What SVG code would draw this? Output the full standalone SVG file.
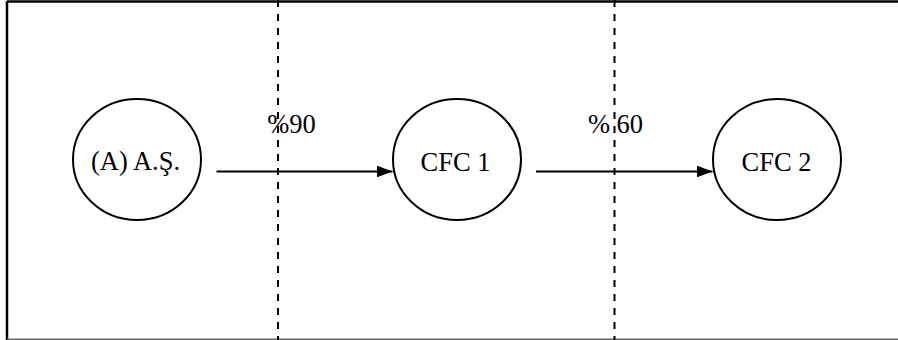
<svg xmlns="http://www.w3.org/2000/svg" width="898" height="340" viewBox="0 0 898 340">
<defs>
<style>
.node ellipse{fill:#fff;stroke:#000;stroke-width:2}
.node text,.lbl{font-family:"Liberation Serif","Times New Roman",serif;font-size:26.5px;fill:#000;text-anchor:middle}
.dash{stroke:#000;stroke-width:2;stroke-dasharray:7,7}
.conn{stroke:#000;stroke-width:2;fill:none;marker-end:url(#ah)}
</style>
<marker id="ah" markerWidth="16" markerHeight="12" refX="16" refY="6" orient="auto" markerUnits="userSpaceOnUse">
<path d="M0,0 L16,6 L0,12 Z" fill="#000"/>
</marker>
</defs>
<rect width="898" height="340" fill="#fff"/>
<g id="frame">
<line x1="7" y1="1.5" x2="898" y2="1.5" stroke="#000" stroke-width="2.5"/>
<line x1="7" y1="1" x2="7" y2="340" stroke="#000" stroke-width="2.5"/>
<line x1="7" y1="339.3" x2="898" y2="339.3" stroke="#666" stroke-width="1.5"/>
</g>
<g id="dividers">
<line class="dash" x1="278" y1="0" x2="278" y2="340"/>
<line class="dash" x1="614.5" y1="0" x2="614.5" y2="340"/>
</g>
<g id="connectors">
<line class="conn" x1="216.5" y1="171.5" x2="392.5" y2="171.5"/>
<line class="conn" x1="536" y1="171.5" x2="712.5" y2="171.5"/>
<text class="lbl" x="291.5" y="133">%90</text>
<text class="lbl" x="615.5" y="133">% 60</text>
</g>
<g id="node-as" class="node">
<ellipse cx="137" cy="159.5" rx="64" ry="60.5"/>
<text x="135.5" y="169.5">(A) A.Ş.</text>
</g>
<g id="node-cfc1" class="node">
<ellipse cx="457" cy="159.5" rx="64" ry="60.5"/>
<text x="455.5" y="170.5">CFC 1</text>
</g>
<g id="node-cfc2" class="node">
<ellipse cx="777" cy="159.5" rx="64" ry="60.5"/>
<text x="776.5" y="170.5">CFC 2</text>
</g>
</svg>
